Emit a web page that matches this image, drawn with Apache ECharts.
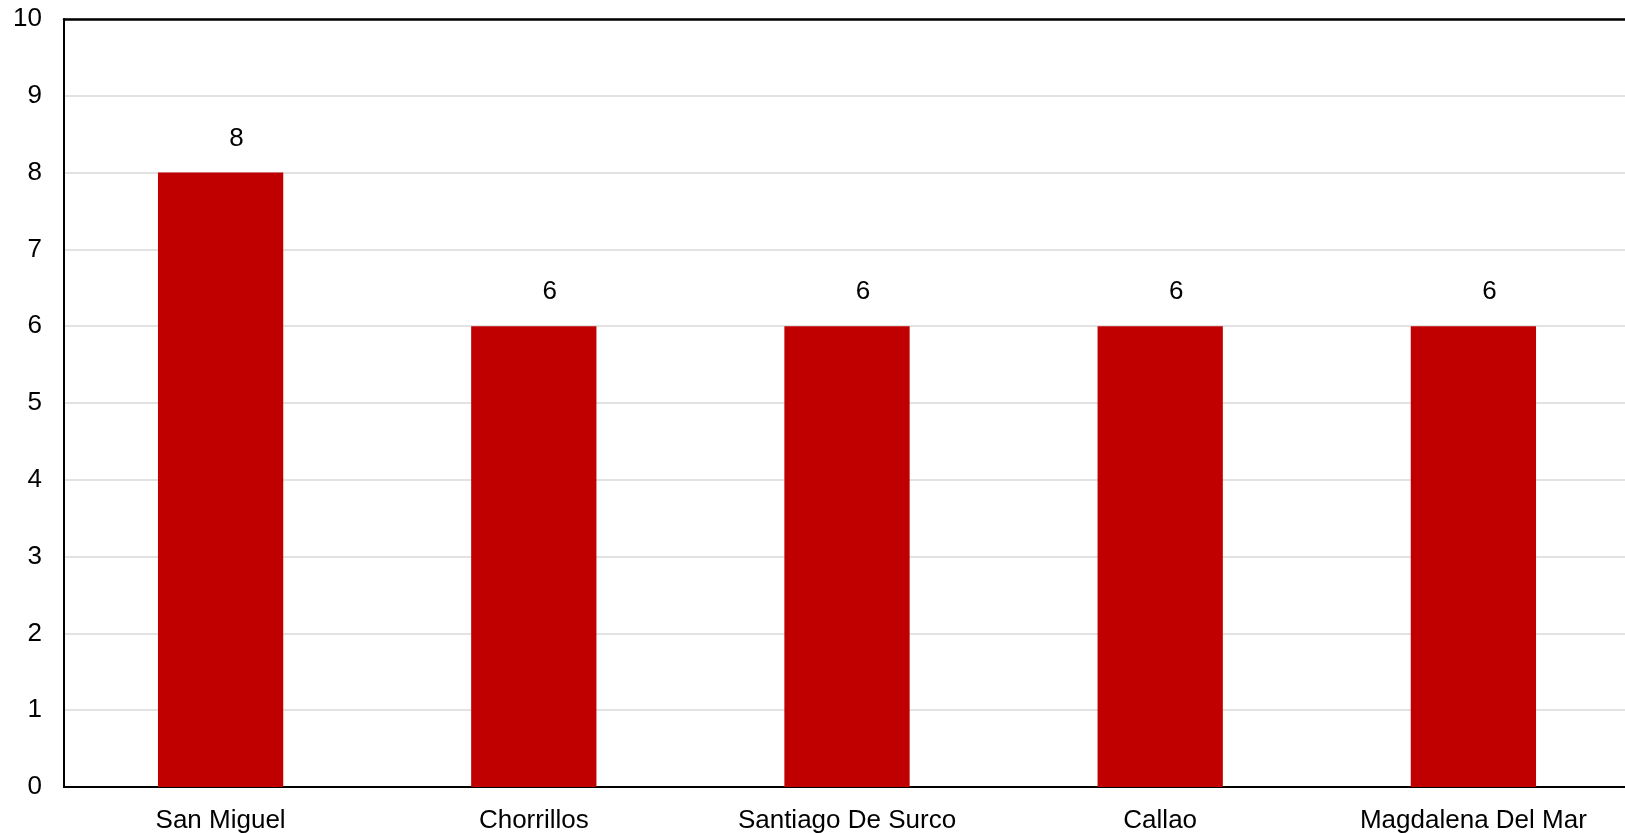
<!DOCTYPE html>
<html>
<head>
<meta charset="utf-8">
<script src="https://cdn.jsdelivr.net/npm/echarts@6/dist/echarts.min.js"></script>
<style>
html,body{margin:0;padding:0;background:#fff;}
#chart{width:1625px;height:833px;}
</style>
</head>
<body>
<div id="chart"></div>
<script>
const categories = ['San Miguel', 'Chorrillos', 'Santiago De Surco', 'Callao', 'Magdalena Del Mar'];
const values = [8, 6, 6, 6, 6];
const yTicks = [0, 1, 2, 3, 4, 5, 6, 7, 8, 9, 10];

const FONT = 'Liberation Sans, Arial, sans-serif';
const chart = echarts.init(document.getElementById('chart'), null, {renderer: 'canvas'});
chart.setOption({
  animation: false,
  backgroundColor: '#ffffff',
  grid: {
    left: 64, top: 19, right: -5, bottom: 46,
    show: false,
    containLabel: false,
    outerBoundsMode: 'none'
  },
  xAxis: [{
    type: 'category',
    data: categories,
    axisLine: {show: true, lineStyle: {color: '#000000', width: 2}},
    axisTick: {show: false},
    axisLabel: {color: '#000000', fontSize: 26, fontFamily: FONT, margin: 21, interval: 0}
  }, {
    type: 'category',
    data: categories,
    position: 'top',
    axisLine: {show: true, onZero: false, lineStyle: {color: '#000000', width: 2.5}},
    axisTick: {show: false},
    axisLabel: {show: false}
  }],
  yAxis: {
    type: 'value',
    min: yTicks[0],
    max: yTicks[yTicks.length - 1],
    interval: 1,
    axisLine: {show: true, lineStyle: {color: '#000000', width: 2}},
    axisTick: {show: false},
    axisLabel: {color: '#000000', fontSize: 26, fontFamily: FONT, margin: 22},
    splitLine: {show: true, lineStyle: {color: '#d9d9d9', width: 1.5}}
  },
  series: [{
    type: 'bar',
    data: values,
    barWidth: '40%',
    itemStyle: {color: '#c00000'},
    label: {
      show: true,
      position: 'top',
      distance: 21,
      offset: [16, 0],
      color: '#000000',
      fontSize: 26,
      fontFamily: FONT
    }
  }]
});
</script>
</body>
</html>
